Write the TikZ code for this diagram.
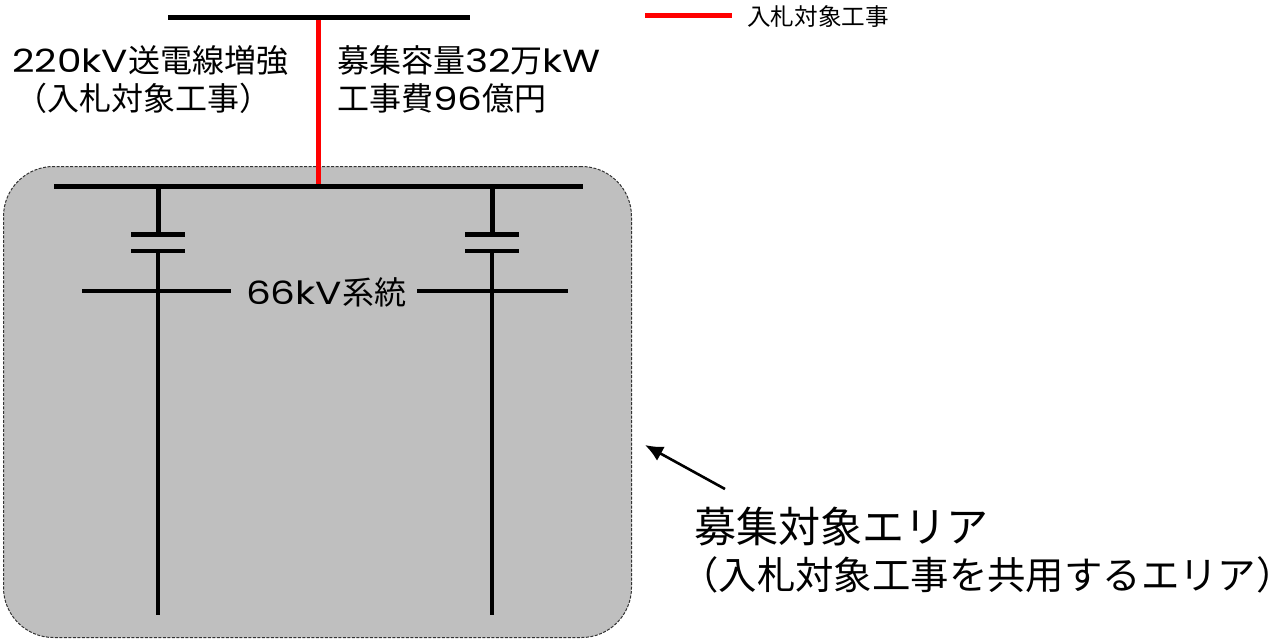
\documentclass[tikz,border=0pt]{standalone}
\usepackage{fontspec}
\setmainfont{Noto Sans CJK JP}[Scale=1]
\newfontfamily\latinfont{Poppins}[FakeStretch=1.22]
\usetikzlibrary{arrows.meta}
\newcommand{\lat}[1]{{\latinfont #1}}
\newcommand{\fs}[1]{\fontsize{#1}{#1}\selectfont}
\tikzset{
 x=1pt,y=-1pt,
 busline/.style={line width=5pt,black},
 thinline/.style={line width=4pt,black},
 redline/.style={line width=5pt,red!100!black},
 lab/.style={inner sep=0pt,anchor=west,text=black},
}
\begin{document}
\begin{tikzpicture}
\useasboundingbox (0,0) rectangle (1274,641);
\node[draw=black!80,dash pattern=on 3pt off 1.5pt,line width=1pt,fill=black!25,rounded corners=50pt,minimum width=628pt,minimum height=471pt,inner sep=0pt,anchor=north west] (area) at (3,166) {};
\coordinate (t1) at (168,17);\coordinate (t2) at (470,17);
\coordinate (b1) at (54,186);\coordinate (b2) at (583,186);
\coordinate (rt) at (318,17);\coordinate (rb) at (318,186);
\draw[redline] (rt)--(rb);
\draw[busline] (t1)--(t2);
\draw[busline] (b1)--(b2);
\foreach \n/\x in {l/158,r/492}{
 \coordinate (\n a) at (\x,186);\coordinate (\n b) at (\x,234);
 \coordinate (\n c) at (\x,251);\coordinate (\n d) at (\x,615);
 \coordinate (\n p) at (\x-27,234);\coordinate (\n q) at (\x+27,234);
 \coordinate (\n s) at (\x-27,251);\coordinate (\n u) at (\x+27,251);
 \draw[busline] (\n a)--(\n b);
 \draw[busline] (\n p)--(\n q);
 \draw[thinline] (\n s)--(\n u);
 \draw[thinline] (\n c)--(\n d);
}
\coordinate (h1) at (82,291);\coordinate (h2) at (231,291);
\coordinate (h3) at (417,291);\coordinate (h4) at (568,291);
\draw[thinline] (h1)--(h2);
\draw[thinline] (h3)--(h4);
\node[lab] (l66) at (246,292) {\fs{32}\lat{66kV}系統};
\node[lab] (t220) at (12,60) {\fs{32}\lat{220kV}送電線増強};
\node[lab] (tbid) at (15,98) {\fs{32}（入札対象工事）};
\node[lab] (tcap) at (337,60) {\fs{32}募集容量\lat{32}万\lat{kW}};
\node[lab] (tcost) at (337,98) {\fs{32}工事費\lat{96}億円};
\coordinate (lg1) at (645,15);\coordinate (lg2) at (732,15);
\draw[redline] (lg1)--(lg2);
\node[lab] (lgt) at (747,17) {\fs{23.6}入札対象工事};
\coordinate (ar1) at (725,489);\coordinate (ar2) at (645,445);
\draw[line width=2.6pt,-{Latex[length=18pt,width=16pt]}] (ar1)--(ar2);
\node[lab] (big1) at (694,527) {\fs{42}募集対象エリア};
\node[lab] (big2) at (680,575) {\fs{38.4}（入札対象工事を共用するエリア）\hspace{-0.6em}};
\end{tikzpicture}
\end{document}
